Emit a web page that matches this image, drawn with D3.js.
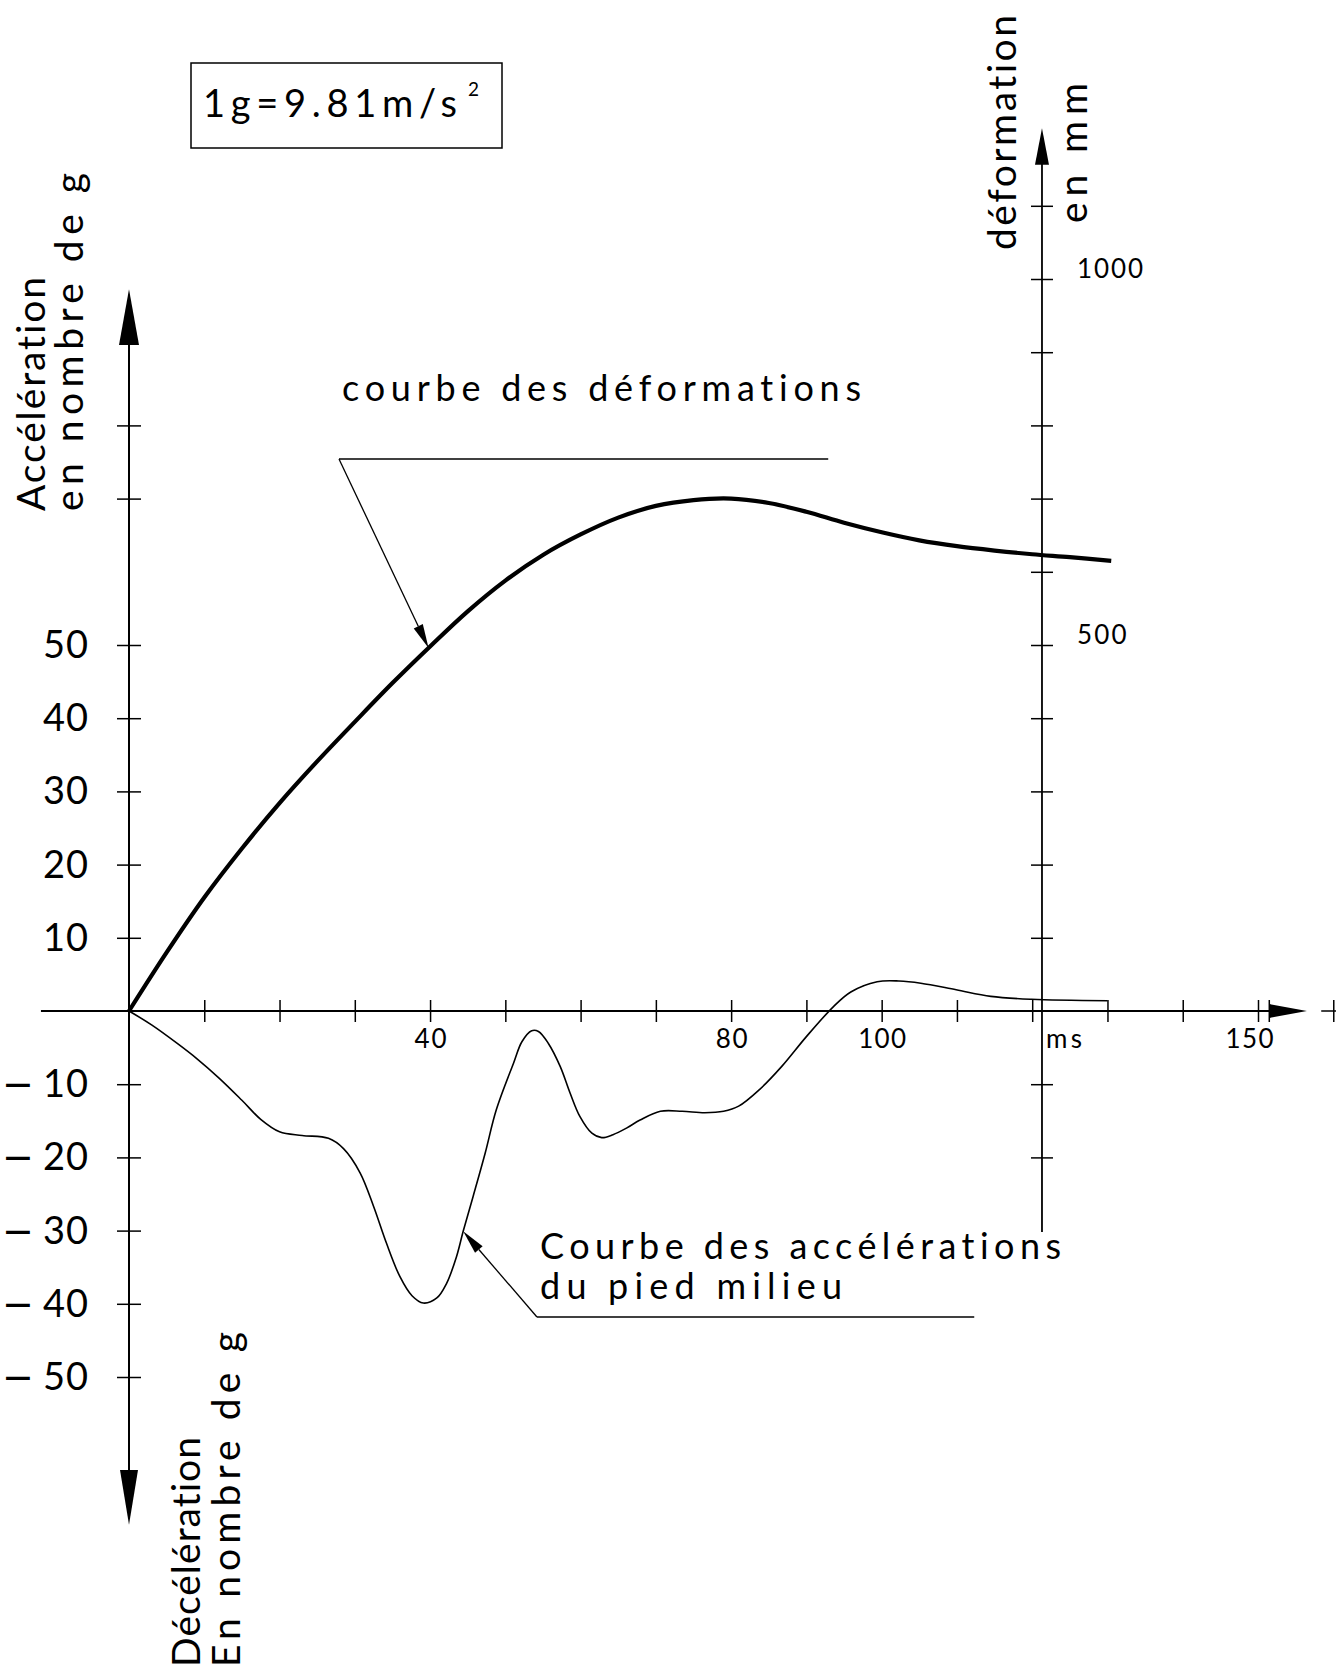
<!DOCTYPE html>
<html>
<head>
<meta charset="utf-8">
<script src="https://cdn.jsdelivr.net/npm/d3@7"></script>
<style>
  html, body { margin: 0; padding: 0; background: #fff; }
  svg text { font-family: Lato, "DejaVu Sans", sans-serif; fill: #000; font-variant-ligatures: none; }
</style>
</head>
<body>
<div id="chart"></div>
<script>
// time axis (ms)
const timeTicks = [10, 20, 30, 40, 50, 60, 70, 80, 90, 100, 110, 120, 130, 140, 150, 160];
const timeLabels = [40, 80, 100, 150];

// left axis: acceleration in g
const accTicks = [-50, -40, -30, -20, -10, 10, 20, 30, 40, 50, 70, 80];
const accLabels = [-50, -40, -30, -20, -10, 10, 20, 30, 40, 50];

// right axis: deformation in mm
const defTicks = [-200, -100, 100, 200, 300, 400, 500, 600, 700, 800, 900, 1000, 1100];
const defLabels = [500, 1000];

// courbe des déformations (ms, mm)
const defTime   = [0, 5, 10, 15, 20, 25, 30, 35, 40, 45, 50, 55, 60, 65, 70, 75, 80, 85, 90, 95, 100, 105, 110, 115, 120, 125, 130.5];
const defValues = [0, 80, 155, 222, 284, 341, 395, 448, 498, 546, 588, 623, 651, 674, 690, 698, 700, 694, 682, 667, 654, 643, 635, 629, 624, 620, 615];

// courbe des accélérations du pied milieu (ms, g)
const accTime   = [0, 3, 6.5, 9, 12, 15, 17.5, 20, 23, 26.5, 28.5, 30.7, 32.5, 34.2, 36, 37.6, 39.1, 40.9, 42.2, 43.5, 44.4, 45.7, 47.3, 48.8, 51.1, 52.2, 53.5, 54.4, 55.7, 57.3, 58.6, 59.9, 61.5, 62.8, 64.3, 66.1, 67.9, 70.6, 73.5, 76.5, 79, 81, 83.8, 86.7, 90, 93.6, 95.9, 99.4, 102.3, 105.2, 109.9, 114.5, 119.9, 130];
const accValues = [0, -1.9, -4.5, -6.5, -9.2, -12.2, -14.8, -16.5, -17.0, -17.4, -18.8, -22.1, -26.7, -31.7, -36.3, -38.9, -39.9, -39.2, -37.2, -33.6, -30.1, -25.4, -19.5, -13.5, -7.1, -4.2, -2.7, -2.8, -4.4, -7.6, -11.2, -14.4, -16.7, -17.3, -16.9, -16.0, -14.9, -13.7, -13.7, -13.9, -13.7, -13.0, -10.7, -7.6, -3.5, 0.6, 2.6, 4.0, 4.1, 3.8, 2.9, 2.0, 1.6, 1.4];

const W = 1336, H = 1670;
const RIGHT_AXIS_T = 121.3;

const svg = d3.select("#chart").append("svg")
  .attr("width", W)
  .attr("height", H)
  .attr("viewBox", `0 0 ${W} ${H}`);

svg.append("rect").attr("width", W).attr("height", H).attr("fill", "#fff");

const x = d3.scaleLinear().domain([0, 150]).range([129, 1258]);
const yG = d3.scaleLinear().domain([-50, 50]).range([1377, 645]);
const yMM = d3.scaleLinear().domain([-500, 500]).range([1377, 645]);

const x0 = x(0), y0 = yG(0), xR = x(RIGHT_AXIS_T);

function arrowHead(tipX, tipY, baseX, baseY, half) {
  const dx = tipX - baseX, dy = tipY - baseY;
  const len = Math.hypot(dx, dy);
  const nx = -dy / len * half, ny = dx / len * half;
  return `M${tipX},${tipY}L${baseX + nx},${baseY + ny}L${baseX - nx},${baseY - ny}Z`;
}

// ---- x axis (time)
svg.append("line")
  .attr("x1", x(-11.7)).attr("x2", x(152))
  .attr("y1", y0).attr("y2", y0)
  .attr("stroke", "#000").attr("stroke-width", 2);
svg.append("path")
  .attr("d", arrowHead(x(156.5), y0, x(151.5), y0, 7))
  .attr("fill", "#000");
svg.append("line")
  .attr("x1", x(151.5)).attr("x2", x(151.5))
  .attr("y1", y0 - 11).attr("y2", y0 + 11)
  .attr("stroke", "#000").attr("stroke-width", 1.5);
svg.append("line")
  .attr("x1", x(158.4)).attr("x2", W)
  .attr("y1", y0).attr("y2", y0)
  .attr("stroke", "#000").attr("stroke-width", 1.5);

const xAxis = svg.append("g")
  .attr("transform", `translate(0,${y0})`)
  .call(d3.axisBottom(x).tickValues(timeTicks).tickSizeInner(11).tickSizeOuter(0)
    .tickFormat(d => timeLabels.includes(d) ? d : ""));
xAxis.select(".domain").remove();
xAxis.selectAll(".tick line").attr("y1", -11).attr("y2", 11)
  .attr("stroke", "#000").attr("stroke-width", 1.5);
xAxis.selectAll(".tick text")
  .attr("y", 37).attr("dy", 0)
  .attr("dx", d => d === 150 ? -9 : 0)
  .attr("textLength", d => timeLabels.includes(d) ? String(d).length * 16 : null)
  .attr("lengthAdjust", "spacing")
  .style("font-size", "26px");

svg.append("text")
  .attr("x", xR + 4).attr("y", y0 + 37)
  .attr("textLength", 36)
  .style("font-size", "26px")
  .text("ms");

// ---- left axis (acceleration)
svg.append("line")
  .attr("x1", x0).attr("x2", x0)
  .attr("y1", yG(92)).attr("y2", yG(-64))
  .attr("stroke", "#000").attr("stroke-width", 2);
svg.append("path").attr("d", arrowHead(x0, yG(98.6), x0, yG(91), 10)).attr("fill", "#000");
svg.append("path").attr("d", arrowHead(x0, yG(-70.2), x0, yG(-62.7), 9)).attr("fill", "#000");

const yAxisL = svg.append("g")
  .attr("transform", `translate(${x0},0)`)
  .call(d3.axisLeft(yG).tickValues(accTicks).tickSizeInner(12).tickSizeOuter(0)
    .tickFormat(d => accLabels.includes(d) ? Math.abs(d) : ""));
yAxisL.select(".domain").remove();
yAxisL.selectAll(".tick line").attr("x1", -12).attr("x2", 12)
  .attr("stroke", "#000").attr("stroke-width", 1.5);
yAxisL.selectAll(".tick text")
  .attr("x", -40).attr("dy", "0.33em")
  .attr("text-anchor", "end")
  .style("font-size", "38px")
  .each(function (d) {
    if (!accLabels.includes(d)) return;
    const t = d3.select(this);
    t.text("");
    if (d < 0) t.append("tspan").style("font-family", "'DejaVu Sans'").text("\u2212");
    t.append("tspan").attr("dx", d < 0 ? 9 : 0).attr("letter-spacing", 1).text(Math.abs(d));
  });

// ---- right axis (deformation)
svg.append("line")
  .attr("x1", xR).attr("x2", xR)
  .attr("y1", yMM(1160)).attr("y2", yMM(-302))
  .attr("stroke", "#000").attr("stroke-width", 1.8);
svg.append("path").attr("d", arrowHead(xR, yMM(1206), xR, yMM(1156), 7)).attr("fill", "#000");

const yAxisR = svg.append("g")
  .attr("transform", `translate(${xR},0)`)
  .call(d3.axisRight(yMM).tickValues(defTicks).tickSizeInner(11).tickSizeOuter(0)
    .tickFormat(d => defLabels.includes(d) ? d : ""));
yAxisR.select(".domain").remove();
yAxisR.selectAll(".tick line").attr("x1", -11).attr("x2", 11)
  .attr("stroke", "#000").attr("stroke-width", 1.5);
yAxisR.selectAll(".tick text")
  .attr("x", 35).attr("dy", "-0.05em")
  .attr("text-anchor", "start")
  .attr("textLength", d => defLabels.includes(d) ? String(d).length * 16.5 : null)
  .attr("lengthAdjust", "spacing")
  .style("font-size", "26px");

// ---- curves
const defLine = d3.line()
  .x((d, i) => x(defTime[i]))
  .y(d => yMM(d))
  .curve(d3.curveCatmullRom);
svg.append("path")
  .attr("d", defLine(defValues))
  .attr("fill", "none").attr("stroke", "#000")
  .attr("stroke-width", 4.2).attr("stroke-linejoin", "round");

const accLine = d3.line()
  .x((d, i) => x(accTime[i]))
  .y(d => yG(d))
  .curve(d3.curveCatmullRom);
svg.append("path")
  .attr("d", accLine(accValues))
  .attr("fill", "none").attr("stroke", "#000")
  .attr("stroke-width", 1.6).attr("stroke-linejoin", "round");

// ---- annotations
function leader(startT, startV, endT, tipT, tipV, ys) {
  const sx = x(startT), sy = ys(startV);
  const tx = x(tipT), ty = ys(tipV);
  svg.append("line")
    .attr("x1", sx).attr("x2", x(endT)).attr("y1", sy).attr("y2", sy)
    .attr("stroke", "#000").attr("stroke-width", 1.5);
  const len = Math.hypot(tx - sx, ty - sy);
  const bx = tx - (tx - sx) / len * 24, by = ty - (ty - sy) / len * 24;
  svg.append("line")
    .attr("x1", sx).attr("y1", sy).attr("x2", bx).attr("y2", by)
    .attr("stroke", "#000").attr("stroke-width", 1.3);
  svg.append("path").attr("d", arrowHead(tx, ty, bx, by, 5)).attr("fill", "#000");
}

leader(27.9, 754, 92.9, 39.8, 496, yMM);
leader(54.2, -41.8, 112.3, 44.4, -30.1, yG);

function label(txt, px, py, size, len, rotate) {
  const t = svg.append("text")
    .style("font-size", size + "px")
    .attr("textLength", len)
    .attr("lengthAdjust", "spacing")
    .text(txt);
  if (rotate) t.attr("transform", `translate(${px},${py}) rotate(-90)`);
  else t.attr("x", px).attr("y", py);
  return t;
}

label("courbe des déformations", 342, 401, 36, 519);
label("Courbe des accélérations", 540, 1259, 36, 521);
label("du pied milieu", 540, 1299, 36, 302);

// box 1g
svg.append("rect")
  .attr("x", 191).attr("y", 63).attr("width", 311).attr("height", 85)
  .attr("fill", "none").attr("stroke", "#000").attr("stroke-width", 1.5);
label("1g=9.81m/s", 203, 117, 38, 254);
svg.append("text").attr("x", 468).attr("y", 96)
  .style("font-size", "19px").text("2");

// axis titles (rotated)
label("Accélération", 45, 511, 39, 234, true);
label("en nombre de g", 83, 511, 39, 338, true);
label("Décélération", 200, 1667, 39, 230, true);
label("En nombre de g", 240, 1667, 39, 335, true);
label("déformation", 1016, 250, 39, 235, true);
label("en mm", 1087, 223, 39, 140, true);
</script>
</body>
</html>
